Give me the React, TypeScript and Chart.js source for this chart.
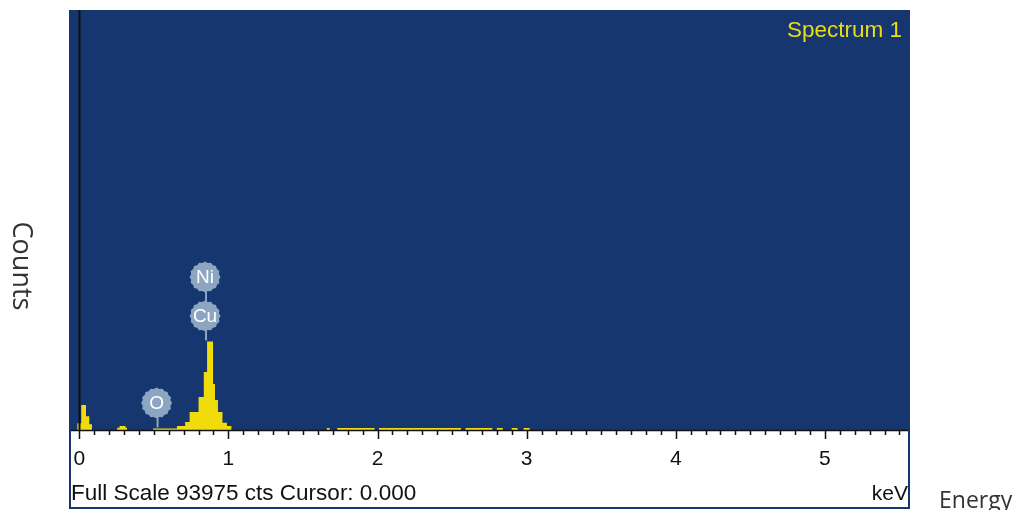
import React, { useEffect, useRef } from 'react';
import { Chart, registerables } from 'chart.js';

Chart.register(...registerables);

// ---- data ----
const FULL_SCALE = 93975; // cts
const CURSOR_KEV = 0;
const X_MIN = -0.069;
const X_MAX = 5.571;
const MAJOR_TICKS = [0, 1, 2, 3, 4, 5];
const MINOR_STEP = 0.1;

// histogram bin edges (keV) and counts for the bin that starts at each edge
const ENERGY_KEV = [
  -0.069, -0.013, 0.013, 0.045, 0.067, 0.085, 0.254, 0.27, 0.31, 0.32,
  0.495, 0.655, 0.71, 0.74, 0.8, 0.835, 0.857, 0.897, 0.91, 0.93,
  0.96, 0.99, 1.02, 1.66, 1.68, 1.73, 1.98, 2.01, 2.56, 2.59,
  2.77, 2.8, 2.84, 2.9, 2.94, 2.98, 3.02, 5.571,
];
const COUNTS = [
  0, 1500, 5600, 3100, 1300, 0, 500, 900, 500, 0,
  340, 900, 1800, 4000, 7400, 13000, 19800, 10300, 6700, 4000,
  1600, 900, 0, 450, 0, 450, 0, 450, 0, 450,
  0, 450, 0, 450, 0, 450, 0, 0,
];

const ELEMENTS = ['O', 'Cu', 'Ni'];
const ELEMENT_KEV = [0.525, 0.85, 0.85];

const TITLE = 'Spectrum 1';
const X_UNIT = 'keV';
const Y_TITLE = 'Counts';
const X_TITLE = 'Energy';

// ---- styles ----
const NAVY = '#16366f';
const YELLOW = '#f0dc0c';
const LABEL_BG = '#8ca6c2';
const SANS = '"Liberation Sans", Arial, sans-serif';
const UI = '"Open Sans", sans-serif';

function countAt(e: number, half: number) {
  let m = 0;
  for (let i = 0; i < ENERGY_KEV.length - 1; i++) {
    const a = ENERGY_KEV[i];
    const b = ENERGY_KEV[i + 1];
    if (b > e - half && a < e + half) m = Math.max(m, COUNTS[i]);
  }
  return m;
}

const decorPlugin = {
  id: 'edsDecor',
  beforeDraw(chart: any) {
    const { ctx, chartArea: ca } = chart;
    ctx.save();
    ctx.fillStyle = NAVY;
    ctx.fillRect(ca.left, ca.top, ca.right - ca.left, 509 - ca.top);
    ctx.fillStyle = '#ffffff';
    ctx.fillRect(ca.left + 2, ca.bottom, ca.right - ca.left - 4, 507 - ca.bottom);
    ctx.restore();
  },
  afterDatasetsDraw(chart: any) {
    const { ctx, chartArea: ca, scales } = chart;
    const xs = scales.x;
    const ys = scales.y;
    ctx.save();

    // cursor line
    const cx = Math.round(xs.getPixelForValue(CURSOR_KEV)) + 0.5;
    ctx.strokeStyle = '#111111';
    ctx.lineWidth = 2;
    ctx.beginPath();
    ctx.moveTo(cx, ca.top);
    ctx.lineTo(cx, ca.bottom);
    ctx.stroke();

    // baseline
    ctx.lineWidth = 1.5;
    ctx.beginPath();
    ctx.moveTo(ca.left + 2, ca.bottom + 0.5);
    ctx.lineTo(ca.right - 2, ca.bottom + 0.5);
    ctx.stroke();

    // minor / major tick marks
    ctx.lineWidth = 1.5;
    const nMin = Math.ceil(X_MIN / MINOR_STEP);
    const nMax = Math.floor(X_MAX / MINOR_STEP);
    for (let n = nMin; n <= nMax; n++) {
      const v = n * MINOR_STEP;
      const px = Math.round(xs.getPixelForValue(v)) + 0.5;
      const major = MAJOR_TICKS.some((t) => Math.abs(t - v) < 1e-6);
      ctx.beginPath();
      ctx.moveTo(px, ca.bottom);
      ctx.lineTo(px, ca.bottom + (major ? 9 : 5));
      ctx.stroke();
    }

    // element markers
    const R = 14.5;
    const STICK = 10;
    const used: Record<string, number> = {};
    ELEMENTS.forEach((el, i) => {
      const e = ELEMENT_KEV[i];
      const key = e.toFixed(3);
      const px = xs.getPixelForValue(e);
      let base: number;
      if (used[key] === undefined) {
        base = ys.getPixelForValue(countAt(e, 0.01)) - 1;
      } else {
        base = used[key];
      }
      const cy = base - STICK - R;
      used[key] = cy - R;
      ctx.strokeStyle = LABEL_BG;
      ctx.lineWidth = 2;
      ctx.beginPath();
      ctx.moveTo(px, base);
      ctx.lineTo(px, cy);
      ctx.stroke();
      ctx.fillStyle = LABEL_BG;
      ctx.beginPath();
      const N = 32;
      for (let k = 0; k <= N; k++) {
        const a = (k / N) * Math.PI * 2;
        const r = k % 2 === 0 ? R + 1 : R - 0.3;
        const x = px - 1 + Math.cos(a) * r;
        const y = cy + Math.sin(a) * r;
        if (k === 0) ctx.moveTo(x, y);
        else ctx.lineTo(x, y);
      }
      ctx.closePath();
      ctx.fill();
      ctx.fillStyle = '#ffffff';
      ctx.font = `19px ${SANS}`;
      ctx.textAlign = 'center';
      ctx.textBaseline = 'middle';
      ctx.fillText(el, px - 1, cy + 1);
    });

    // texts
    ctx.fillStyle = '#ecdc14';
    ctx.font = `22.5px ${SANS}`;
    ctx.textAlign = 'right';
    ctx.textBaseline = 'alphabetic';
    ctx.fillText(TITLE, ca.right - 8, ca.top + 27);

    ctx.fillStyle = '#111111';
    ctx.font = `22.5px ${SANS}`;
    ctx.textAlign = 'left';
    ctx.fillText(
      `Full Scale ${FULL_SCALE} cts Cursor: ${CURSOR_KEV.toFixed(3)}`,
      ca.left + 2,
      500
    );
    ctx.font = `21px ${SANS}`;
    ctx.textAlign = 'right';
    ctx.fillText(X_UNIT, ca.right - 2, 500);

    ctx.fillStyle = '#333333';
    ctx.font = `23px ${UI}`;
    ctx.textAlign = 'left';
    ctx.fillText(X_TITLE, 939, 508);

    ctx.save();
    ctx.translate(13, 266);
    ctx.rotate(Math.PI / 2);
    ctx.font = `27px ${UI}`;
    ctx.textAlign = 'center';
    ctx.textBaseline = 'alphabetic';
    ctx.fillText(Y_TITLE, 0, 0);
    ctx.restore();

    ctx.restore();
  },
};

export default function App() {
  const ref = useRef<HTMLCanvasElement | null>(null);
  useEffect(() => {
    if (!ref.current) return;
    const chart = new Chart(ref.current, {
      type: 'line',
      data: {
        datasets: [
          {
            data: ENERGY_KEV.map((x, i) => ({ x, y: COUNTS[i] })),
            stepped: true,
            fill: 'origin',
            backgroundColor: YELLOW,
            borderColor: 'rgba(0,0,0,0)',
            borderWidth: 0,
            pointRadius: 0,
          },
        ],
      },
      options: {
        responsive: false,
        animation: false,
        events: [],
        layout: { padding: { left: 69, top: 10, right: 105, bottom: 0 } },
        plugins: { legend: { display: false }, tooltip: { enabled: false } },
        scales: {
          x: {
            type: 'linear',
            min: X_MIN,
            max: X_MAX,
            afterBuildTicks: (s: any) => {
              s.ticks = MAJOR_TICKS.map((v) => ({ value: v }));
            },
            afterFit: (s: any) => {
              s.height = 80;
            },
            border: { display: false },
            grid: { display: false, drawTicks: false },
            ticks: {
              autoSkip: false,
              maxRotation: 0,
              padding: 17,
              color: '#111111',
              font: { family: SANS, size: 21 },
              callback: (v: any) => String(v),
            },
          },
          y: {
            display: false,
            min: 0,
            max: FULL_SCALE,
          },
        },
      },
      plugins: [decorPlugin],
    });
    return () => chart.destroy();
  }, []);
  return (
    <div style={{ position: 'absolute', left: 0, top: 0, width: 1015, height: 510, background: '#ffffff' }}>
      <canvas ref={ref} width={1015} height={510} style={{ width: 1015, height: 510, display: 'block' }} />
    </div>
  );
}
